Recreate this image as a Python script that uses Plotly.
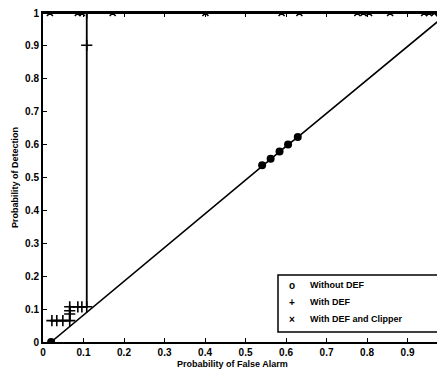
import plotly.graph_objects as go

# Without DEF (circles along diagonal)
nodef_x = [0.02, 0.541, 0.562, 0.584, 0.605, 0.629, 1.0]
nodef_y = [0.0, 0.537, 0.557, 0.579, 0.600, 0.623, 1.0]

# With DEF (plus markers, staircase)
def_x = [0.018, 0.022, 0.034, 0.049, 0.066, 0.066, 0.066, 0.066, 0.086, 0.096, 0.108, 0.108, 0.108, 0.108, 0.5, 1.0]
def_y = [0.065, 0.065, 0.065, 0.065, 0.065, 0.085, 0.095, 0.107, 0.107, 0.107, 0.107, 0.902, 1.0, 1.0, 1.0, 1.0]
def_marker = [False, True, True, True, True, True, True, True, True, True, True, True, True, False, False, False]

# With DEF and Clipper (x markers along top)
clip_x = [0.017, 0.086, 0.096, 0.172, 0.401, 0.589, 0.633, 0.776, 0.791, 0.805, 0.857, 0.941, 0.953, 0.966, 0.978]
clip_y = [1.0] * len(clip_x)

xticks = [0, 0.1, 0.2, 0.3, 0.4, 0.5, 0.6, 0.7, 0.8, 0.9]
xticklabels = ["0", "0.1", "0.2", "0.3", "0.4", "0.5", "0.6", "0.7", "0.8", "0.9"]
yticks = [0, 0.1, 0.2, 0.3, 0.4, 0.5, 0.6, 0.7, 0.8, 0.9, 1]
yticklabels = ["0", "0.1", "0.2", "0.3", "0.4", "0.5", "0.6", "0.7", "0.8", "0.9", "1"]

legend_names = ["Without DEF", "With DEF", "With DEF and Clipper"]
legend_symbols = ["o", "+", "×"]
x_title = "Probability of False Alarm"
y_title = "Probability of Detection"

FONT = "Liberation Sans, Arial, sans-serif"
OFF = 8  # page body margin
W, H = 445 - OFF, 377 - OFF
ML, MR, MT, MB = 43 - OFF, 1, 13 - OFF, 35
PW, PH = W - ML - MR, H - MT - MB


def px_x(p):
    return (p - OFF - ML) / PW


def px_y(p):
    return (H - MB - (p - OFF)) / PH


fig = go.Figure()

fig.add_trace(go.Scatter(x=nodef_x, y=nodef_y, mode="lines", line=dict(color="black", width=1.6),
                         showlegend=False, hoverinfo="skip"))
fig.add_trace(go.Scatter(x=nodef_x[:-1], y=nodef_y[:-1], mode="markers", name=legend_names[0],
                         marker=dict(symbol="circle", size=8, color="black"), showlegend=False))
fig.add_trace(go.Scatter(x=def_x, y=def_y, mode="lines", line=dict(color="black", width=1.8),
                         showlegend=False, hoverinfo="skip"))
fig.add_trace(go.Scatter(x=[x for x, m in zip(def_x, def_marker) if m],
                         y=[y for y, m in zip(def_y, def_marker) if m], mode="markers", name=legend_names[1],
                         marker=dict(symbol="cross-thin-open", size=8, color="black",
                                     line=dict(color="black", width=1.6)),
                         showlegend=False))
fig.add_trace(go.Scatter(x=[0.0] + clip_x + [1.0], y=[1.0] + clip_y + [1.0], mode="lines",
                         line=dict(color="black", width=2.2), showlegend=False, hoverinfo="skip"))
fig.add_trace(go.Scatter(x=clip_x, y=clip_y, mode="markers", name=legend_names[2],
                         marker=dict(symbol="x-thin-open", size=6, color="black",
                                     line=dict(color="black", width=1.6)),
                         showlegend=False))

# manual legend (box + text)
box_l, box_r, box_t, box_b = 278, 439, 275, 332
fig.add_shape(type="rect", xref="paper", yref="paper",
              x0=px_x(box_l), x1=px_x(box_r), y0=px_y(box_b), y1=px_y(box_t),
              line=dict(color="black", width=1.5), fillcolor="white", layer="above")
row_y = [285, 302, 319]
for name, sym, ry in zip(legend_names, legend_symbols, row_y):
    fig.add_annotation(xref="paper", yref="paper", x=px_x(292), y=px_y(ry), text="<b>%s</b>" % sym,
                       showarrow=False, xanchor="center", yanchor="middle",
                       font=dict(family=FONT, size=10, color="black"))
    fig.add_annotation(xref="paper", yref="paper", x=px_x(308), y=px_y(ry), text="<b>%s</b>" % name,
                       showarrow=False, xanchor="left", yanchor="middle",
                       font=dict(family=FONT, size=9, color="black"))

# axis titles
fig.add_annotation(xref="paper", yref="paper", x=px_x(232), y=px_y(364), text="<b>%s</b>" % x_title,
                   showarrow=False, xanchor="center", yanchor="middle",
                   font=dict(family=FONT, size=9, color="black"))
fig.add_annotation(xref="paper", yref="paper", x=px_x(15), y=px_y(178), text="<b>%s</b>" % y_title,
                   showarrow=False, xanchor="center", yanchor="middle", textangle=-90,
                   font=dict(family=FONT, size=9, color="black"))

fig.update_layout(
    width=W, height=H,
    margin=dict(l=ML, r=MR, t=MT, b=MB),
    paper_bgcolor="white", plot_bgcolor="white",
    font=dict(family=FONT, size=10, color="black"),
    showlegend=False,
    xaxis=dict(range=[0, 0.99], tickvals=xticks, ticktext=xticklabels, automargin=False,
               showgrid=False, zeroline=False, showline=True, linecolor="black", linewidth=2,
               ticks="inside", ticklen=4, tickwidth=1.2, tickcolor="black", mirror="allticks",
               tickfont=dict(family=FONT, size=10, weight="bold"), ticklabelstandoff=0,
               ticklabeloverflow="allow"),
    yaxis=dict(range=[0, 1], tickvals=yticks, ticktext=yticklabels, automargin=False,
               showgrid=False, zeroline=False, showline=True, linecolor="black", linewidth=2,
               ticks="inside", ticklen=4, tickwidth=1.2, tickcolor="black",
               tickfont=dict(family=FONT, size=10, weight="bold"), ticklabeloverflow="allow"),
)

fig.write_html("out.html")
